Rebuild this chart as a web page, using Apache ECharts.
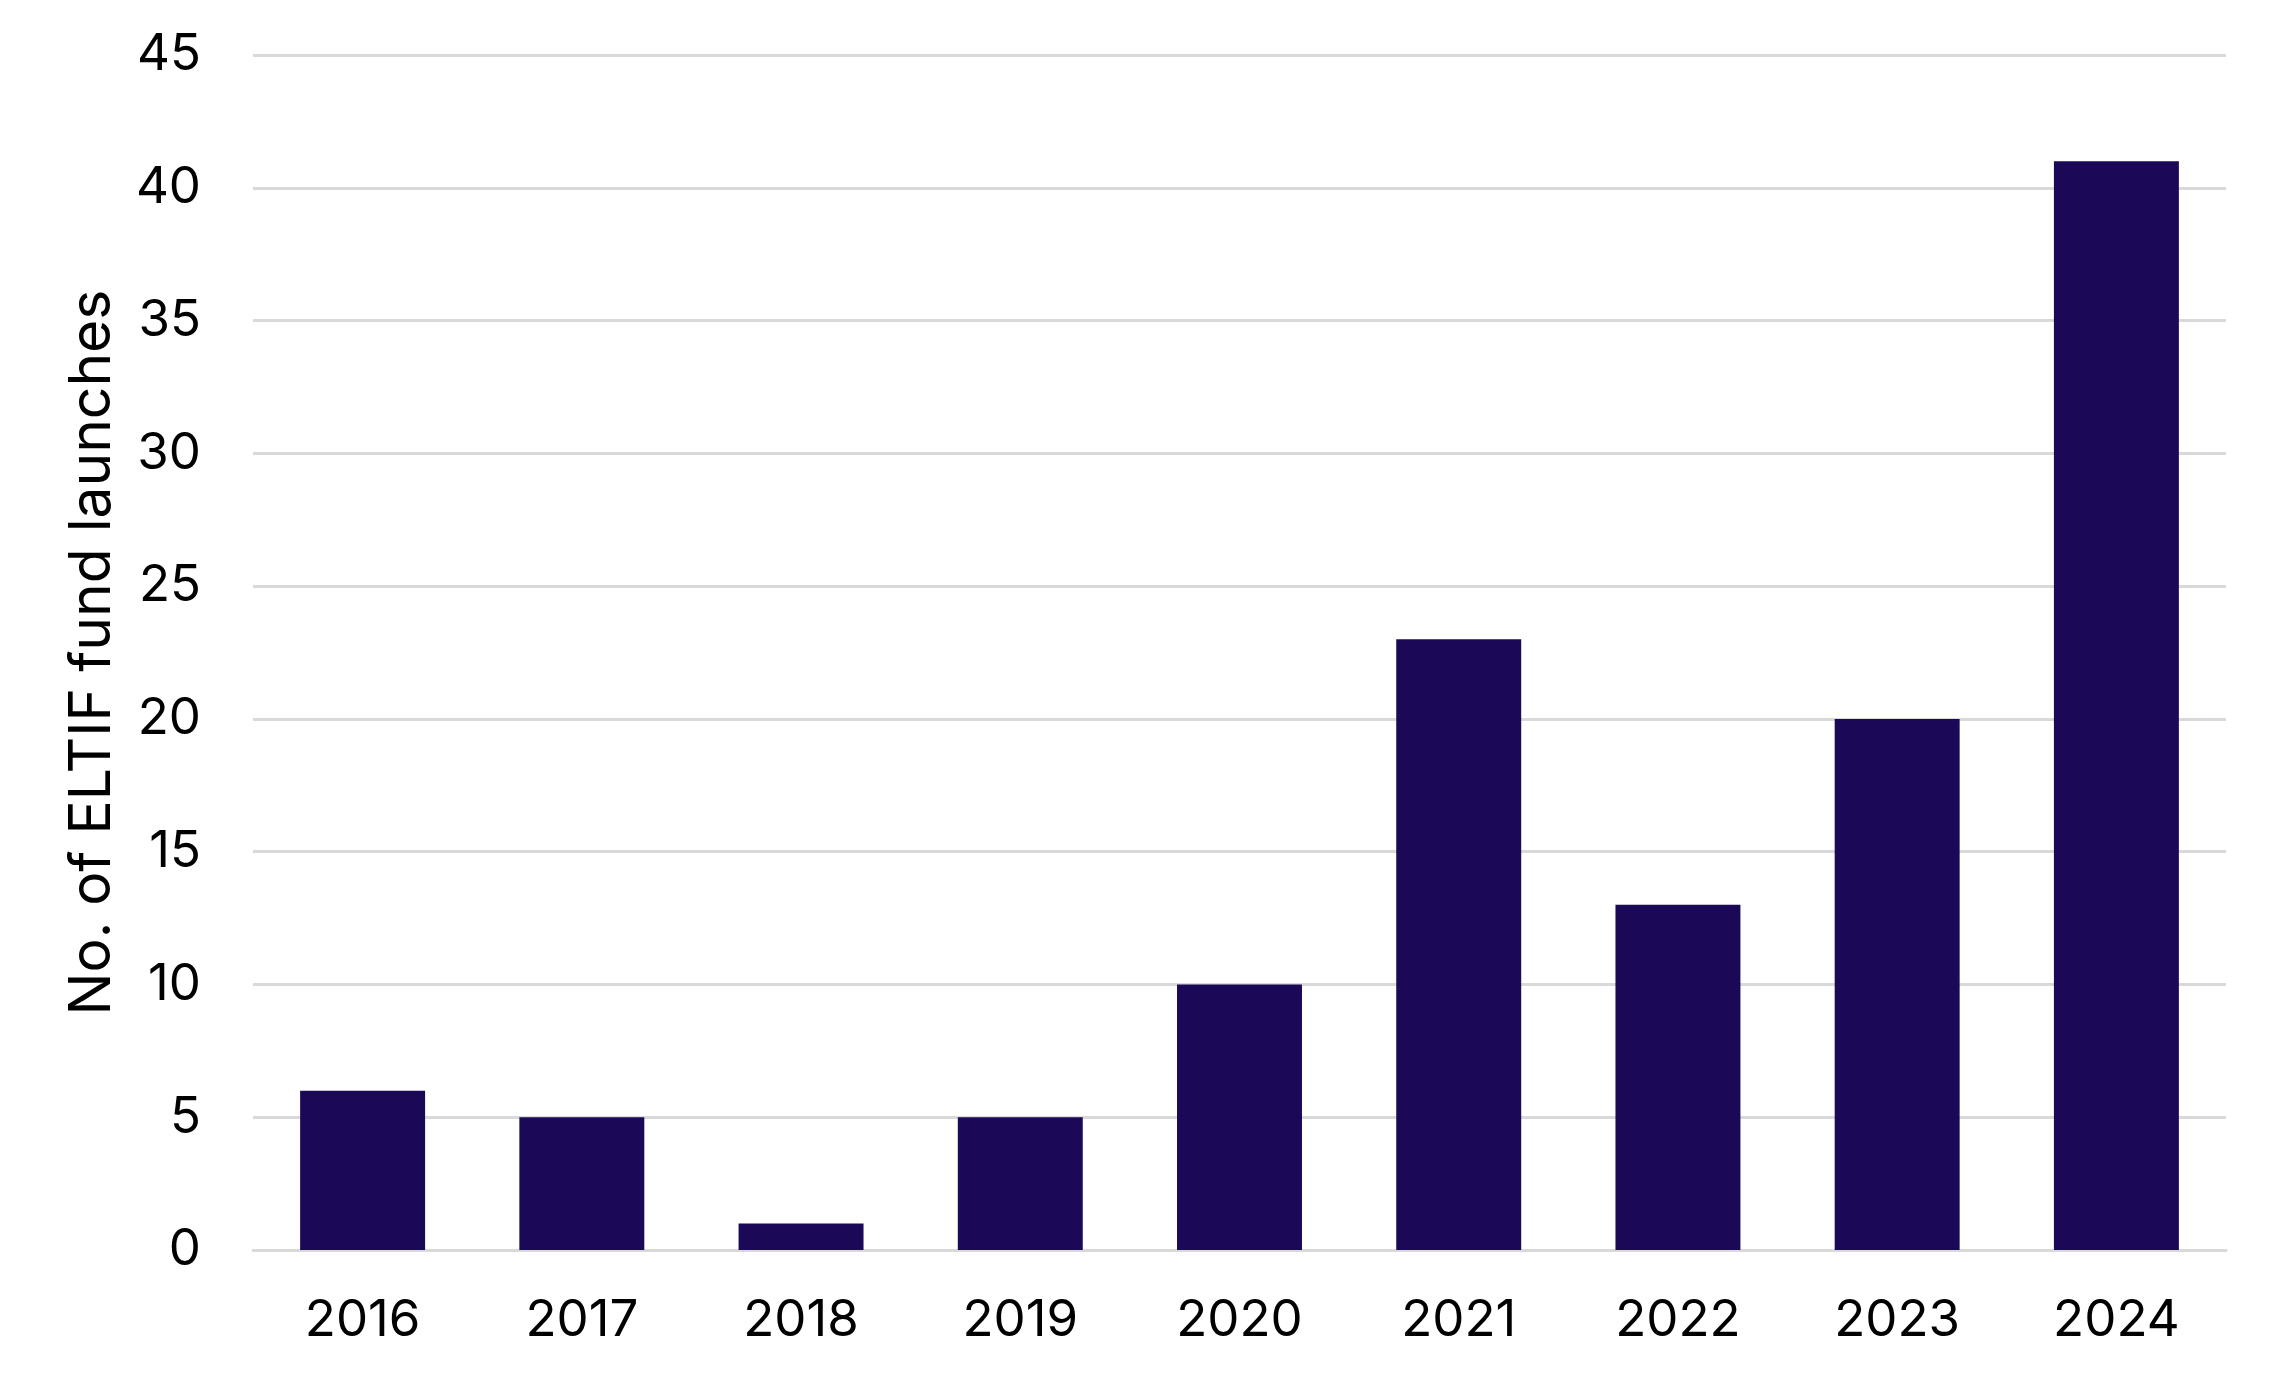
<!DOCTYPE html>
<html>
<head>
<meta charset="utf-8">
<script src="https://cdn.jsdelivr.net/npm/echarts@6/dist/echarts.min.js"></script>
<style>html,body{margin:0;padding:0;background:#fff;}#c{width:2277px;height:1379px;}</style>
</head>
<body>
<div id="c"></div>
<script>
const categories = ['2016','2017','2018','2019','2020','2021','2022','2023','2024'];
const launches = [6, 5, 1, 5, 10, 23, 13, 20, 41];
const yTicks = {min: 0, max: 45, interval: 5};
const yTitle = 'No. of ELTIF fund launches';

const chart = echarts.init(document.getElementById('c'));
const font = 'Inter, "Noto Sans", sans-serif';
chart.setOption({
  animation: false,
  backgroundColor: '#ffffff',
  grid: {left: 253, right: 51, top: 55, bottom: 129, containLabel: false},
  xAxis: {
    type: 'category',
    data: categories,
    axisLine: {show: true, lineStyle: {color: '#d9d9d9', width: 3}},
    axisTick: {show: false},
    axisLabel: {color: '#000', fontSize: 51, fontFamily: font, margin: 45}
  },
  yAxis: {
    type: 'value',
    min: yTicks.min, max: yTicks.max, interval: yTicks.interval,
    name: yTitle,
    nameLocation: 'middle',
    nameRotate: 90,
    nameGap: 132,
    nameTextStyle: {color: '#000', fontSize: 57, fontFamily: font},
    axisLine: {show: false},
    axisTick: {show: false},
    axisLabel: {color: '#000', fontSize: 51, fontFamily: font, margin: 52},
    splitLine: {show: true, lineStyle: {color: '#d9d9d9', width: 3}}
  },
  series: [{
    type: 'bar',
    data: launches,
    barWidth: '57%',
    itemStyle: {color: '#1b0856'}
  }]
});
</script>
</body>
</html>
